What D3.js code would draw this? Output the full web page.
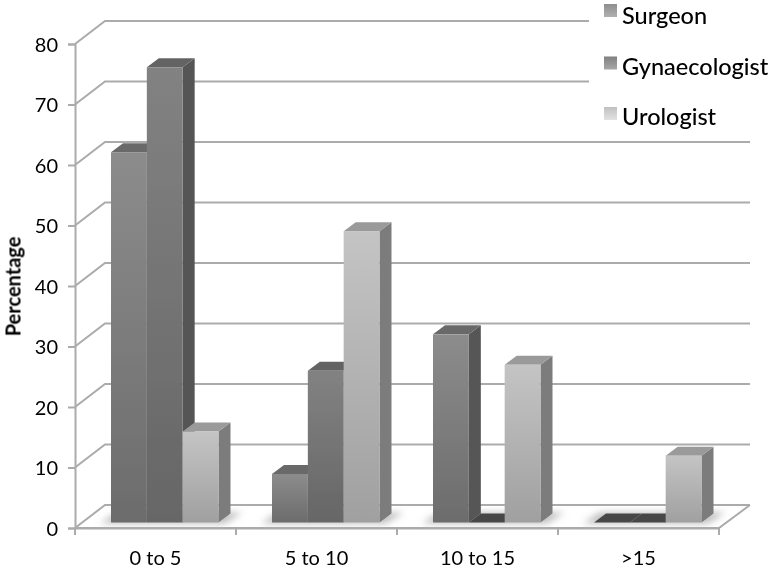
<!DOCTYPE html>
<html><head><meta charset="utf-8">
<script src="https://cdn.jsdelivr.net/npm/d3@7"></script>
<style>html,body{margin:0;padding:0;background:#fff;overflow:hidden}svg{display:block}</style>
</head><body><svg id="c" width="774" height="570"></svg>
<script>
const categories = ["0 to 5", "5 to 10", "10 to 15", ">15"];
const seriesNames = ["Surgeon", "Gynaecologist", "Urologist"];
const surgeon = [61, 8, 31, 0];
const gynaecologist = [75, 25, 0, 0];
const urologist = [15, 48, 26, 11];
const yTicks = [0, 10, 20, 30, 40, 50, 60, 70, 80];
const seriesValues = [surgeon, gynaecologist, urologist];
const palette = [
  {a:"#8c8c8c", b:"#6c6c6c", top:"#696969", side:"#575757", zero:"#474747", lg1:"#b0b0b0", lg2:"#8e8e8e"},
  {a:"#828282", b:"#666666", top:"#636363", side:"#555555", zero:"#434343", lg1:"#a8a8a8", lg2:"#808080"},
  {a:"#c4c4c4", b:"#a0a0a0", top:"#9a9a9a", side:"#7c7c7c", zero:"#8a8a8a", lg1:"#e2e2e2", lg2:"#c0c0c0"}
];
const FONT = "Lato,'Open Sans',sans-serif";
const depth = {dx: 30, dy: -23};
const barDepth = {dx: 12, dy: -9};
const svg = d3.select("#c");
const defs = svg.append("defs");
const soft = defs.append("filter").attr("id","soft").attr("x","-5%").attr("y","-5%").attr("width","110%").attr("height","110%");
soft.append("feGaussianBlur").attr("stdDeviation",0.45);
const sh = defs.append("filter").attr("id","sh").attr("x","-20%").attr("y","-50%").attr("width","140%").attr("height","200%");
sh.append("feGaussianBlur").attr("stdDeviation",3.5);
palette.forEach((p,i)=>{
  const g = defs.append("linearGradient").attr("id","g"+i).attr("x1",0).attr("y1",0).attr("x2",0).attr("y2",1);
  g.append("stop").attr("offset",0).attr("stop-color",p.a);
  g.append("stop").attr("offset",1).attr("stop-color",p.b);
  const l = defs.append("linearGradient").attr("id","l"+i).attr("x1",0).attr("y1",0).attr("x2",0).attr("y2",1);
  l.append("stop").attr("offset",0).attr("stop-color",p.lg2);
  l.append("stop").attr("offset",1).attr("stop-color",p.lg1);
});
const root = svg.append("g").attr("filter","url(#soft)");
const y = d3.scaleLinear().domain([0,80]).range([528,44]);
const barY = d3.scaleLinear().domain([0,80]).range([522.5,36.9]);
const x0 = d3.scaleBand().domain(categories).range([75,719]);
const x1 = d3.scaleBand().domain(seriesNames).range([36,143.5]);
const GRID = "#ababab";

// wall grid lines
const grid = root.append("g").attr("fill","none").attr("stroke",GRID).attr("stroke-width",2);
yTicks.forEach(t=>{
  const yy=y(t);
  grid.append("path").attr("d",d3.line()([[75,yy],[75+depth.dx,yy+depth.dy],[719+depth.dx+1,yy+depth.dy]]));
});
// floor front edges
grid.append("path").attr("d",d3.line()([[75,y(0)],[719,y(0)],[719+depth.dx+1,y(0)+depth.dy]]));

// axes
const yAxis = d3.axisLeft(y).tickValues(yTicks).tickSize(7).tickPadding(10);
const xAxis = d3.axisBottom(x0).tickSize(0).tickPadding(23);
const gy = root.append("g").attr("transform","translate(75,0)").call(yAxis);
const gx = root.append("g").attr("transform","translate(0,"+y(0)+")").call(xAxis);
gy.selectAll("path,line").attr("stroke",GRID).attr("stroke-width",2);
gx.select("path").attr("stroke",GRID).attr("stroke-width",2);
gx.selectAll("line").remove();
x0.domain().concat(["end"]).forEach((c,i)=>{
  const xx = i<4 ? x0(c) : x0.range()[1];
  gx.append("line").attr("x1",xx).attr("x2",xx).attr("y1",0).attr("y2",7).attr("stroke",GRID).attr("stroke-width",2);
});
root.selectAll(".tick text").attr("font-family",FONT).attr("fill","#000").attr("font-size",20);
gy.selectAll("text").attr("dy","0.37em");

// shadows
const shadows = root.append("g").attr("filter","url(#sh)");
categories.forEach(c=>{
  const bx=x0(c)+x1.range()[0], w=x1.range()[1]-x1.range()[0], by=barY(0);
  shadows.append("path").attr("fill","#bcbcbc")
    .attr("d",d3.line()([[bx-11,by+1],[bx+w+6,by+1],[bx+w+24,by-10],[bx+6,by-10]]));
});

// bars
categories.forEach((c,ci)=>{
  const g = root.append("g");
  seriesNames.forEach((s,si)=>{
    const v = seriesValues[si][ci], p = palette[si];
    const xl = x0(c)+x1(s), w = x1.bandwidth();
    const yb = barY(0), yt = barY(v);
    const {dx,dy} = barDepth;
    if(v===0){
      g.append("path").attr("fill",palette[0].zero)
       .attr("d",d3.line()([[xl,yb],[xl+w,yb],[xl+w+dx,yb+dy],[xl+dx,yb+dy]]));
      return;
    }
    g.append("path").attr("fill",p.side)
     .attr("d",d3.line()([[xl+w,yb],[xl+w+dx,yb+dy],[xl+w+dx,yt+dy],[xl+w,yt]]));
    g.append("path").attr("fill",p.top)
     .attr("d",d3.line()([[xl,yt],[xl+w,yt],[xl+w+dx,yt+dy],[xl+dx,yt+dy]]));
    g.append("rect").attr("x",xl).attr("y",yt).attr("width",w).attr("height",yb-yt).attr("fill",`url(#g${si})`);
  });
});

// legend
root.append("rect").attr("x",589).attr("y",0).attr("width",185).attr("height",128).attr("fill","#fff");
const legendY = d3.scalePoint().domain(seriesNames).range([16,117]);
const lg = root.append("g").selectAll("g").data(seriesNames).join("g");
lg.append("rect").attr("x",604).attr("y",(d,i)=>legendY(d)-(i===0?12:10)).attr("width",13).attr("height",13).attr("fill",(d,i)=>`url(#l${i})`);
lg.append("text").attr("x",622).attr("y",d=>legendY(d)+8).text(d=>d)
  .attr("font-family",FONT).attr("font-size",23.5).attr("font-weight",500).attr("fill","#000");

// y title
root.append("text").attr("transform","translate(20.5,286.5) rotate(-90)").attr("text-anchor","middle")
  .attr("font-family",FONT).attr("font-weight",700).attr("font-size",20).attr("fill","#000").text("Percentage");
</script></body></html>
